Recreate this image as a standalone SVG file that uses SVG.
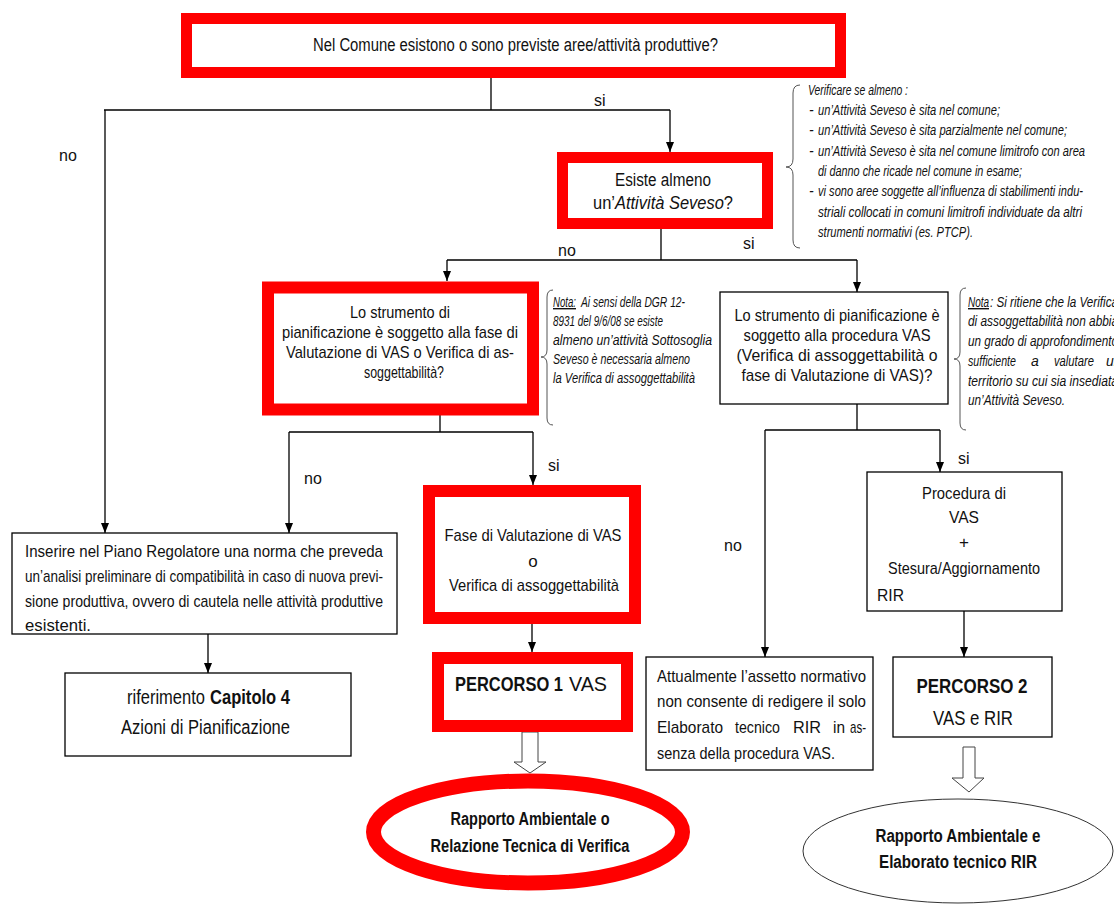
<svg xmlns="http://www.w3.org/2000/svg" width="1114" height="904" viewBox="0 0 1114 904">
<defs>
<marker id="ah" markerWidth="10" markerHeight="10" refX="10" refY="5" orient="auto" markerUnits="userSpaceOnUse"><path d="M0,1 L10,5 L0,9 z" fill="#000"/></marker>
<style>
.t{font-family:"Liberation Sans Narrow","Liberation Sans",Arial,sans-serif;fill:#111;}
.f16{font-size:16px}
.f17{font-size:17px}
.f18{font-size:18px}
.f20{font-size:20px}
.f21{font-size:21px}
.it{font-style:italic;font-size:14px}
.b{font-weight:bold}
.red{fill:#fff;stroke:#f00}
.box{fill:#fff;stroke:#000;stroke-width:1.3}
.c{fill:none;stroke:#000;stroke-width:1.3}
.arr{marker-end:url(#ah)}
.br{fill:none;stroke:#555;stroke-width:1}
.hol{fill:#fff;stroke:#444;stroke-width:1}
</style>
</defs>
<rect width="1114" height="904" fill="#fff"/>

<g id="connectors">
<path class="c" d="M491,78 V110 M104,110 H670"/>
<path class="c arr" d="M105,110 V533"/>
<path class="c arr" d="M670,110 V152"/>
<path class="c" d="M661,229 V260 M447,260 H857"/>
<path class="c arr" d="M447,260 V281"/>
<path class="c arr" d="M857,260 V292"/>
<path class="c" d="M440,415 V432 M289,432 H533"/>
<path class="c arr" d="M289,432 V533"/>
<path class="c arr" d="M533,432 V485"/>
<path class="c" d="M857,404 V430 M765,430 H940"/>
<path class="c arr" d="M765,430 V657"/>
<path class="c arr" d="M940,430 V472"/>
<path class="c arr" d="M208,634 V673"/>
<path class="c arr" d="M532,624 V652"/>
<path class="c arr" d="M964,611 V657"/>
<path class="hol" d="M522,732 H538 V762 H546 L530,773 L514,762 H522 Z"/>
<path class="hol" d="M963,747 H975 V778 H984 L969,792 L952,778 H963 Z"/>
<text class="t f16" x="594" y="106">si</text>
<text class="t f16" x="59" y="161">no</text>
<text class="t f16" x="558" y="256">no</text>
<text class="t f16" x="743" y="249">si</text>
<text class="t f16" x="304" y="484">no</text>
<text class="t f16" x="548" y="471">si</text>
<text class="t f16" x="724" y="551">no</text>
<text class="t f16" x="958" y="464">si</text>
</g>

<g id="n-top">
<rect class="red" x="186.5" y="18.5" width="654" height="54" stroke-width="11"/>
<text class="t f18" x="313" y="51" textLength="405" lengthAdjust="spacingAndGlyphs">Nel Comune esistono o sono previste aree/attività produttive?</text>
</g>

<g id="n-note1">
<path class="br" d="M800,85 Q793,85 793,93 L793,159 Q793,167 786,167 Q793,167 793,175 L793,240 Q793,248 800,248"/>
<text class="t it" x="808" y="95" textLength="100" lengthAdjust="spacingAndGlyphs">Verificare se almeno :</text>
<text class="t it" x="809" y="115">-</text>
<text class="t it" x="818" y="115" textLength="182" lengthAdjust="spacingAndGlyphs">un’Attività Seveso è sita nel comune;</text>
<text class="t it" x="809" y="135">-</text>
<text class="t it" x="818" y="135" textLength="249" lengthAdjust="spacingAndGlyphs">un’Attività Seveso è sita parzialmente nel comune;</text>
<text class="t it" x="809" y="156">-</text>
<text class="t it" x="818" y="156" textLength="267" lengthAdjust="spacingAndGlyphs">un’Attività Seveso è sita nel comune limitrofo con area</text>
<text class="t it" x="818" y="176" textLength="204" lengthAdjust="spacingAndGlyphs">di danno che ricade nel comune in esame;</text>
<text class="t it" x="809" y="196">-</text>
<text class="t it" x="818" y="196" textLength="265" lengthAdjust="spacingAndGlyphs">vi sono aree soggette all’influenza di stabilimenti indu-</text>
<text class="t it" x="818" y="217" textLength="264" lengthAdjust="spacingAndGlyphs">striali collocati in comuni limitrofi individuate da altri</text>
<text class="t it" x="818" y="237" textLength="155" lengthAdjust="spacingAndGlyphs">strumenti normativi (es. PTCP).</text>
</g>

<g id="n-seveso">
<rect class="red" x="562.5" y="157.5" width="205" height="66" stroke-width="11"/>
<text class="t f18" x="663" y="186" text-anchor="middle" textLength="96" lengthAdjust="spacingAndGlyphs">Esiste almeno</text>
<text class="t f18" x="663" y="209" text-anchor="middle" textLength="140" lengthAdjust="spacingAndGlyphs">un’<tspan font-style="italic">Attività Seveso</tspan>?</text>
</g>

<g id="n-left-q">
<rect class="red" x="268" y="287.5" width="265" height="122" stroke-width="12"/>
<text class="t f17" x="400" y="318" text-anchor="middle" textLength="100" lengthAdjust="spacingAndGlyphs">Lo strumento di</text>
<text class="t f17" x="400" y="338" text-anchor="middle" textLength="236" lengthAdjust="spacingAndGlyphs">pianificazione è soggetto alla fase di</text>
<text class="t f17" x="400" y="358" text-anchor="middle" textLength="228" lengthAdjust="spacingAndGlyphs">Valutazione di VAS o Verifica di as-</text>
<text class="t f17" x="404" y="378" text-anchor="middle" textLength="80" lengthAdjust="spacingAndGlyphs">soggettabilità?</text>
</g>

<g id="n-note2">
<path class="br" d="M553,290 Q547,290 547,297 L547,350 Q547,357 541,357 Q547,357 547,364 L547,418 Q547,425 553,425"/>
<text class="t it" x="553" y="307" text-decoration="underline" textLength="23" lengthAdjust="spacingAndGlyphs">Nota:</text>
<text class="t it" x="581" y="307" textLength="104" lengthAdjust="spacingAndGlyphs">Ai sensi della DGR 12-</text>
<text class="t it" x="553" y="326" textLength="110" lengthAdjust="spacingAndGlyphs">8931 del 9/6/08 se esiste</text>
<text class="t it" x="553" y="345" textLength="159" lengthAdjust="spacingAndGlyphs">almeno un’attività Sottosoglia</text>
<text class="t it" x="553" y="364" textLength="137" lengthAdjust="spacingAndGlyphs">Seveso è necessaria almeno</text>
<text class="t it" x="553" y="383" textLength="142" lengthAdjust="spacingAndGlyphs">la Verifica di assoggettabilità</text>
</g>

<g id="n-right-q">
<rect class="box" x="720" y="292" width="228" height="112"/>
<text class="t f17" x="837" y="321" text-anchor="middle" textLength="205" lengthAdjust="spacingAndGlyphs">Lo strumento di pianificazione è</text>
<text class="t f17" x="837" y="341" text-anchor="middle" textLength="187" lengthAdjust="spacingAndGlyphs">soggetto alla procedura VAS</text>
<text class="t f17" x="837" y="361" text-anchor="middle" textLength="201" lengthAdjust="spacingAndGlyphs">(Verifica di assoggettabilità o</text>
<text class="t f17" x="837" y="381" text-anchor="middle" textLength="191" lengthAdjust="spacingAndGlyphs">fase di Valutazione di VAS)?</text>
</g>

<g id="n-note3">
<path class="br" d="M966,288 Q960,288 960,295 L960,352 Q960,359 954,359 Q960,359 960,366 L960,423 Q960,430 966,430"/>
<text class="t it" x="968" y="307" text-decoration="underline" textLength="21" lengthAdjust="spacingAndGlyphs">Nota</text>
<text class="t it" x="990" y="307" textLength="128" lengthAdjust="spacingAndGlyphs">: Si ritiene che la Verifica</text>
<text class="t it" x="968" y="326" textLength="150" lengthAdjust="spacingAndGlyphs">di assoggettabilità non abbia</text>
<text class="t it" x="968" y="346" textLength="150" lengthAdjust="spacingAndGlyphs">un grado di approfondimento</text>
<text class="t it" x="968" y="366" textLength="48" lengthAdjust="spacingAndGlyphs">sufficiente</text>
<text class="t it" x="1031" y="366">a</text>
<text class="t it" x="1054" y="366" textLength="40" lengthAdjust="spacingAndGlyphs">valutare</text>
<text class="t it" x="1106" y="366">un</text>
<text class="t it" x="968" y="386" textLength="150" lengthAdjust="spacingAndGlyphs">territorio su cui sia insediata</text>
<text class="t it" x="968" y="405" textLength="97" lengthAdjust="spacingAndGlyphs">un’Attività Seveso.</text>
</g>

<g id="n-inserire">
<rect class="box" x="12" y="533" width="385" height="101"/>
<text class="t f17" x="25" y="557" textLength="358" lengthAdjust="spacingAndGlyphs">Inserire nel Piano Regolatore una norma che preveda</text>
<text class="t f17" x="25" y="582" textLength="358" lengthAdjust="spacingAndGlyphs">un’analisi preliminare di compatibilità in caso di nuova previ-</text>
<text class="t f17" x="25" y="607" textLength="358" lengthAdjust="spacingAndGlyphs">sione produttiva, ovvero di cautela nelle attività produttive</text>
<text class="t f17" x="25" y="631" textLength="66" lengthAdjust="spacingAndGlyphs">esistenti.</text>
</g>

<g id="n-capitolo">
<rect class="box" x="65" y="673" width="286" height="83"/>
<text class="t f20" x="127" y="704" textLength="78" lengthAdjust="spacingAndGlyphs">riferimento</text>
<text class="t f20 b" x="210" y="704" textLength="80" lengthAdjust="spacingAndGlyphs">Capitolo 4</text>
<text class="t f20" x="121" y="734" textLength="169" lengthAdjust="spacingAndGlyphs">Azioni di Pianificazione</text>
</g>

<g id="n-fase">
<rect class="red" x="429" y="491" width="206" height="127" stroke-width="12"/>
<text class="t f17" x="533" y="541" text-anchor="middle" textLength="177" lengthAdjust="spacingAndGlyphs">Fase di Valutazione di VAS</text>
<text class="t f17" x="533" y="567" text-anchor="middle">o</text>
<text class="t f17" x="534" y="591" text-anchor="middle" textLength="170" lengthAdjust="spacingAndGlyphs">Verifica di assoggettabilità</text>
</g>

<g id="n-percorso1">
<rect class="red" x="438" y="658" width="189" height="68" stroke-width="12"/>
<text class="t f21 b" x="455" y="691" textLength="108" lengthAdjust="spacingAndGlyphs">PERCORSO 1</text>
<text class="t f21" x="569" y="691" textLength="38" lengthAdjust="spacingAndGlyphs">VAS</text>
</g>

<g id="n-rapporto1">
<ellipse cx="528" cy="832" rx="154.5" ry="51" fill="#fff" stroke="#f00" stroke-width="15"/>
<text class="t f18 b" x="530" y="825" text-anchor="middle" textLength="159" lengthAdjust="spacingAndGlyphs">Rapporto Ambientale o</text>
<text class="t f18 b" x="530" y="852" text-anchor="middle" textLength="199" lengthAdjust="spacingAndGlyphs">Relazione Tecnica di Verifica</text>
</g>

<g id="n-attualmente">
<rect class="box" x="646" y="657" width="227" height="113"/>
<text class="t f17" x="657" y="682" textLength="209" lengthAdjust="spacingAndGlyphs">Attualmente l’assetto normativo</text>
<text class="t f17" x="657" y="707" textLength="209" lengthAdjust="spacingAndGlyphs">non consente di redigere il solo</text>
<text class="t f17" x="657" y="733" textLength="66" lengthAdjust="spacingAndGlyphs">Elaborato</text>
<text class="t f17" x="735" y="733" textLength="45" lengthAdjust="spacingAndGlyphs">tecnico</text>
<text class="t f17" x="793" y="733" textLength="28" lengthAdjust="spacingAndGlyphs">RIR</text>
<text class="t f17" x="833" y="733" textLength="12" lengthAdjust="spacingAndGlyphs">in</text>
<text class="t f17" x="850" y="733" textLength="16" lengthAdjust="spacingAndGlyphs">as-</text>
<text class="t f17" x="657" y="759" textLength="178" lengthAdjust="spacingAndGlyphs">senza della procedura VAS.</text>
</g>

<g id="n-procedura">
<rect class="box" x="867" y="472" width="195" height="139"/>
<text class="t f17" x="964" y="499" text-anchor="middle" textLength="84" lengthAdjust="spacingAndGlyphs">Procedura di</text>
<text class="t f17" x="964" y="523" text-anchor="middle" textLength="30" lengthAdjust="spacingAndGlyphs">VAS</text>
<text class="t f17" x="964" y="548" text-anchor="middle">+</text>
<text class="t f17" x="964" y="574" text-anchor="middle" textLength="152" lengthAdjust="spacingAndGlyphs">Stesura/Aggiornamento</text>
<text class="t f17" x="877" y="601" textLength="27" lengthAdjust="spacingAndGlyphs">RIR</text>
</g>

<g id="n-percorso2">
<rect class="box" x="893" y="657" width="159" height="80"/>
<text class="t f21 b" x="972" y="693" text-anchor="middle" textLength="111" lengthAdjust="spacingAndGlyphs">PERCORSO 2</text>
<text class="t f21" x="973" y="725" text-anchor="middle" textLength="80" lengthAdjust="spacingAndGlyphs">VAS e RIR</text>
</g>

<g id="n-rapporto2">
<ellipse cx="958" cy="851" rx="155" ry="52" fill="#fff" stroke="#333" stroke-width="1"/>
<text class="t f18 b" x="958" y="842" text-anchor="middle" textLength="165" lengthAdjust="spacingAndGlyphs">Rapporto Ambientale e</text>
<text class="t f18 b" x="958" y="868" text-anchor="middle" textLength="158" lengthAdjust="spacingAndGlyphs">Elaborato tecnico RIR</text>
</g>
</svg>
